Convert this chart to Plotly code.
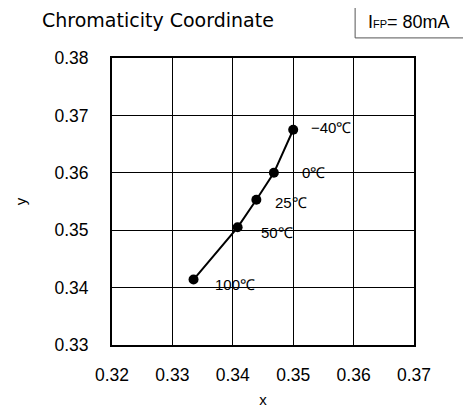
import plotly.graph_objects as go

# chromaticity vs. ambient temperature, IFP = 80mA
cx = [0.3335, 0.3408, 0.3439, 0.3468, 0.3500]
cy = [0.3414, 0.3505, 0.3553, 0.3600, 0.3675]
temps = ["100℃", "50℃", "25℃", "0℃", "−40℃"]
label_dx = [19, 21, 17, 26, 16]
label_dy = [-5, -5, -3, 0, 2]

FONT = "Liberation Sans, Arial, sans-serif"

fig = go.Figure()
fig.add_trace(go.Scatter(
    x=cx, y=cy, mode="lines+markers",
    line=dict(color="black", width=2),
    marker=dict(color="black", size=10),
    showlegend=False, hoverinfo="skip",
))

for x, y, t, dx, dy in zip(cx, cy, temps, label_dx, label_dy):
    fig.add_annotation(x=x, y=y, text=t, showarrow=False, xanchor="left",
                       xshift=dx, yshift=dy, font=dict(size=15, color="black"))

fig.add_annotation(xref="paper", yref="paper", x=-0.24, y=1.133,
                   xanchor="left", yanchor="middle",
                   text="Chromaticity Coordinate", showarrow=False,
                   font=dict(size=19, color="black", family="DejaVu Sans, sans-serif"))
fig.add_annotation(xref="paper", yref="paper", x=0.84, y=1.125,
                   xanchor="left", yanchor="middle",
                   text="I<span style='font-size:11px'>FP</span>= 80mA",
                   showarrow=False, font=dict(size=18, color="black"))
fig.add_shape(type="rect", xref="paper", yref="paper",
              x0=0.805, x1=1.4, y0=1.07, y1=1.184,
              line=dict(color="#555", width=1), fillcolor="white", layer="below")

axis = dict(showline=True, mirror=True, linecolor="black", linewidth=2,
            showgrid=True, gridcolor="black", gridwidth=1, zeroline=False,
            ticks="outside", tickcolor="rgba(0,0,0,0)", automargin=False,
            tickfont=dict(size=17.5, color="black"))
fig.update_xaxes(range=[0.32, 0.37], dtick=0.01, tickformat=".2f", ticklen=13,
                 title=dict(text="x", font=dict(size=15, color="black"), standoff=10),
                 **axis)
fig.update_yaxes(range=[0.33, 0.38], dtick=0.01, tickformat=".2f", ticklen=18,
                 title=dict(text="y", font=dict(size=15, color="black"), standoff=24),
                 **axis)

# page body adds an 8px offset, so the figure is 8px smaller than the window
fig.update_layout(
    width=463, height=402,
    margin=dict(l=104, r=57, t=50, b=65),
    plot_bgcolor="white", paper_bgcolor="white",
    font=dict(family=FONT, color="black"),
)

fig.write_html("out.html")
